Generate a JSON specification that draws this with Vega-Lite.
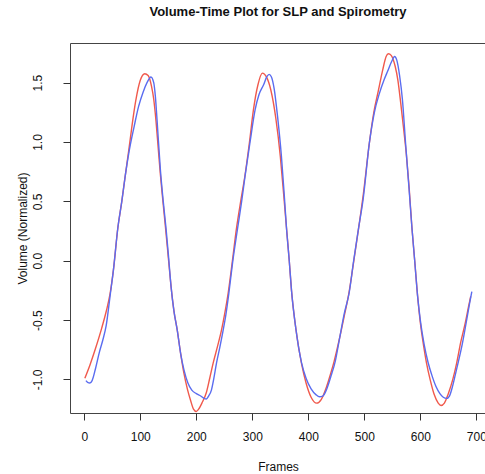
{
  "$schema": "https://vega.github.io/schema/vega-lite/v6.json",
  "width": 416,
  "height": 370,
  "autosize": {"type": "none"},
  "padding": {"left": 70, "top": 43, "right": 0, "bottom": 61},
  "background": "white",
  "title": {"text": "Volume-Time Plot for SLP and Spirometry", "font": "Liberation Sans", "fontSize": 13, "fontWeight": "bold", "color": "#111", "anchor": "middle", "offset": 24},
  "config": {
    "view": {"stroke": "#444", "strokeWidth": 1},
    "axis": {"labelFont": "Liberation Sans", "titleFont": "Liberation Sans", "labelFontSize": 12, "titleFontSize": 12, "titleFontWeight": "normal", "labelColor": "#111", "titleColor": "#111", "tickColor": "#333", "tickSize": 7, "grid": false, "domain": false}
  },
  "datasets": {
    "curves": [
      {"frame": 1, "volume": -0.99, "series": "SLP"},
      {"frame": 10, "volume": -0.88, "series": "SLP"},
      {"frame": 20, "volume": -0.74, "series": "SLP"},
      {"frame": 31, "volume": -0.57, "series": "SLP"},
      {"frame": 39, "volume": -0.43, "series": "SLP"},
      {"frame": 46, "volume": -0.28, "series": "SLP"},
      {"frame": 52, "volume": -0.08, "series": "SLP"},
      {"frame": 60, "volume": 0.28, "series": "SLP"},
      {"frame": 67, "volume": 0.5, "series": "SLP"},
      {"frame": 73, "volume": 0.71, "series": "SLP"},
      {"frame": 80, "volume": 0.95, "series": "SLP"},
      {"frame": 85, "volume": 1.13, "series": "SLP"},
      {"frame": 92, "volume": 1.35, "series": "SLP"},
      {"frame": 100, "volume": 1.52, "series": "SLP"},
      {"frame": 108, "volume": 1.575, "series": "SLP"},
      {"frame": 114, "volume": 1.56, "series": "SLP"},
      {"frame": 120, "volume": 1.47, "series": "SLP"},
      {"frame": 124, "volume": 1.36, "series": "SLP"},
      {"frame": 128, "volume": 1.18, "series": "SLP"},
      {"frame": 132, "volume": 0.95, "series": "SLP"},
      {"frame": 136, "volume": 0.72, "series": "SLP"},
      {"frame": 140, "volume": 0.52, "series": "SLP"},
      {"frame": 145, "volume": 0.28, "series": "SLP"},
      {"frame": 150, "volume": 0.03, "series": "SLP"},
      {"frame": 155, "volume": -0.22, "series": "SLP"},
      {"frame": 160, "volume": -0.42, "series": "SLP"},
      {"frame": 166, "volume": -0.585, "series": "SLP"},
      {"frame": 172, "volume": -0.78, "series": "SLP"},
      {"frame": 178, "volume": -0.95, "series": "SLP"},
      {"frame": 184, "volume": -1.08, "series": "SLP"},
      {"frame": 190, "volume": -1.18, "series": "SLP"},
      {"frame": 195, "volume": -1.25, "series": "SLP"},
      {"frame": 200, "volume": -1.27, "series": "SLP"},
      {"frame": 205, "volume": -1.245, "series": "SLP"},
      {"frame": 210, "volume": -1.2, "series": "SLP"},
      {"frame": 218, "volume": -1.11, "series": "SLP"},
      {"frame": 224, "volume": -0.99, "series": "SLP"},
      {"frame": 230, "volume": -0.865, "series": "SLP"},
      {"frame": 238, "volume": -0.72, "series": "SLP"},
      {"frame": 245, "volume": -0.585, "series": "SLP"},
      {"frame": 251, "volume": -0.44, "series": "SLP"},
      {"frame": 257, "volume": -0.27, "series": "SLP"},
      {"frame": 264, "volume": -0.02, "series": "SLP"},
      {"frame": 272, "volume": 0.28, "series": "SLP"},
      {"frame": 280, "volume": 0.52, "series": "SLP"},
      {"frame": 287, "volume": 0.72, "series": "SLP"},
      {"frame": 295, "volume": 1.0, "series": "SLP"},
      {"frame": 302, "volume": 1.27, "series": "SLP"},
      {"frame": 310, "volume": 1.48, "series": "SLP"},
      {"frame": 318, "volume": 1.58, "series": "SLP"},
      {"frame": 325, "volume": 1.55, "series": "SLP"},
      {"frame": 333, "volume": 1.44, "series": "SLP"},
      {"frame": 342, "volume": 1.2, "series": "SLP"},
      {"frame": 350, "volume": 0.88, "series": "SLP"},
      {"frame": 356, "volume": 0.56, "series": "SLP"},
      {"frame": 361, "volume": 0.28, "series": "SLP"},
      {"frame": 366, "volume": 0.0, "series": "SLP"},
      {"frame": 370, "volume": -0.25, "series": "SLP"},
      {"frame": 378, "volume": -0.58, "series": "SLP"},
      {"frame": 388, "volume": -0.87, "series": "SLP"},
      {"frame": 396, "volume": -1.03, "series": "SLP"},
      {"frame": 405, "volume": -1.15, "series": "SLP"},
      {"frame": 415, "volume": -1.2, "series": "SLP"},
      {"frame": 423, "volume": -1.17, "series": "SLP"},
      {"frame": 432, "volume": -1.07, "series": "SLP"},
      {"frame": 440, "volume": -0.95, "series": "SLP"},
      {"frame": 446, "volume": -0.85, "series": "SLP"},
      {"frame": 455, "volume": -0.67, "series": "SLP"},
      {"frame": 464, "volume": -0.47, "series": "SLP"},
      {"frame": 473, "volume": -0.26, "series": "SLP"},
      {"frame": 481, "volume": -0.01, "series": "SLP"},
      {"frame": 490, "volume": 0.28, "series": "SLP"},
      {"frame": 498, "volume": 0.55, "series": "SLP"},
      {"frame": 509, "volume": 0.99, "series": "SLP"},
      {"frame": 517, "volume": 1.25, "series": "SLP"},
      {"frame": 525, "volume": 1.43, "series": "SLP"},
      {"frame": 533, "volume": 1.61, "series": "SLP"},
      {"frame": 539, "volume": 1.72, "series": "SLP"},
      {"frame": 543, "volume": 1.744, "series": "SLP"},
      {"frame": 548, "volume": 1.73, "series": "SLP"},
      {"frame": 555, "volume": 1.64, "series": "SLP"},
      {"frame": 560, "volume": 1.52, "series": "SLP"},
      {"frame": 565, "volume": 1.33, "series": "SLP"},
      {"frame": 570, "volume": 1.12, "series": "SLP"},
      {"frame": 575, "volume": 0.9, "series": "SLP"},
      {"frame": 580, "volume": 0.62, "series": "SLP"},
      {"frame": 585, "volume": 0.28, "series": "SLP"},
      {"frame": 590, "volume": 0.0, "series": "SLP"},
      {"frame": 595, "volume": -0.29, "series": "SLP"},
      {"frame": 600, "volume": -0.52, "series": "SLP"},
      {"frame": 606, "volume": -0.72, "series": "SLP"},
      {"frame": 611, "volume": -0.86, "series": "SLP"},
      {"frame": 618, "volume": -1.01, "series": "SLP"},
      {"frame": 625, "volume": -1.13, "series": "SLP"},
      {"frame": 632, "volume": -1.2, "series": "SLP"},
      {"frame": 637, "volume": -1.22, "series": "SLP"},
      {"frame": 643, "volume": -1.2, "series": "SLP"},
      {"frame": 650, "volume": -1.12, "series": "SLP"},
      {"frame": 658, "volume": -1.0, "series": "SLP"},
      {"frame": 665, "volume": -0.86, "series": "SLP"},
      {"frame": 672, "volume": -0.69, "series": "SLP"},
      {"frame": 680, "volume": -0.53, "series": "SLP"},
      {"frame": 686, "volume": -0.39, "series": "SLP"},
      {"frame": 690, "volume": -0.3, "series": "SLP"},
      {"frame": 3, "volume": -1.01, "series": "Spirometry"},
      {"frame": 6, "volume": -1.025, "series": "Spirometry"},
      {"frame": 10, "volume": -1.03, "series": "Spirometry"},
      {"frame": 14, "volume": -1.01, "series": "Spirometry"},
      {"frame": 20, "volume": -0.91, "series": "Spirometry"},
      {"frame": 27, "volume": -0.77, "series": "Spirometry"},
      {"frame": 33, "volume": -0.67, "series": "Spirometry"},
      {"frame": 39, "volume": -0.55, "series": "Spirometry"},
      {"frame": 46, "volume": -0.3, "series": "Spirometry"},
      {"frame": 52, "volume": -0.08, "series": "Spirometry"},
      {"frame": 60, "volume": 0.28, "series": "Spirometry"},
      {"frame": 67, "volume": 0.5, "series": "Spirometry"},
      {"frame": 73, "volume": 0.71, "series": "Spirometry"},
      {"frame": 80, "volume": 0.92, "series": "Spirometry"},
      {"frame": 89, "volume": 1.13, "series": "Spirometry"},
      {"frame": 97, "volume": 1.3, "series": "Spirometry"},
      {"frame": 105, "volume": 1.42, "series": "Spirometry"},
      {"frame": 112, "volume": 1.5, "series": "Spirometry"},
      {"frame": 119, "volume": 1.548, "series": "Spirometry"},
      {"frame": 124, "volume": 1.5, "series": "Spirometry"},
      {"frame": 127, "volume": 1.38, "series": "Spirometry"},
      {"frame": 130, "volume": 1.18, "series": "Spirometry"},
      {"frame": 136, "volume": 0.76, "series": "Spirometry"},
      {"frame": 141, "volume": 0.5, "series": "Spirometry"},
      {"frame": 146, "volume": 0.27, "series": "Spirometry"},
      {"frame": 150, "volume": 0.06, "series": "Spirometry"},
      {"frame": 155, "volume": -0.22, "series": "Spirometry"},
      {"frame": 160, "volume": -0.42, "series": "Spirometry"},
      {"frame": 166, "volume": -0.585, "series": "Spirometry"},
      {"frame": 172, "volume": -0.78, "series": "Spirometry"},
      {"frame": 178, "volume": -0.92, "series": "Spirometry"},
      {"frame": 185, "volume": -1.03, "series": "Spirometry"},
      {"frame": 192, "volume": -1.09, "series": "Spirometry"},
      {"frame": 200, "volume": -1.12, "series": "Spirometry"},
      {"frame": 208, "volume": -1.14, "series": "Spirometry"},
      {"frame": 214, "volume": -1.16, "series": "Spirometry"},
      {"frame": 218, "volume": -1.165, "series": "Spirometry"},
      {"frame": 222, "volume": -1.14, "series": "Spirometry"},
      {"frame": 227, "volume": -1.09, "series": "Spirometry"},
      {"frame": 231, "volume": -1.0, "series": "Spirometry"},
      {"frame": 236, "volume": -0.865, "series": "Spirometry"},
      {"frame": 242, "volume": -0.73, "series": "Spirometry"},
      {"frame": 248, "volume": -0.585, "series": "Spirometry"},
      {"frame": 253, "volume": -0.45, "series": "Spirometry"},
      {"frame": 258, "volume": -0.28, "series": "Spirometry"},
      {"frame": 265, "volume": -0.01, "series": "Spirometry"},
      {"frame": 274, "volume": 0.28, "series": "Spirometry"},
      {"frame": 281, "volume": 0.5, "series": "Spirometry"},
      {"frame": 287, "volume": 0.71, "series": "Spirometry"},
      {"frame": 296, "volume": 1.0, "series": "Spirometry"},
      {"frame": 305, "volume": 1.27, "series": "Spirometry"},
      {"frame": 312, "volume": 1.4, "series": "Spirometry"},
      {"frame": 320, "volume": 1.48, "series": "Spirometry"},
      {"frame": 326, "volume": 1.55, "series": "Spirometry"},
      {"frame": 330, "volume": 1.57, "series": "Spirometry"},
      {"frame": 334, "volume": 1.55, "series": "Spirometry"},
      {"frame": 339, "volume": 1.45, "series": "Spirometry"},
      {"frame": 345, "volume": 1.22, "series": "Spirometry"},
      {"frame": 352, "volume": 0.88, "series": "Spirometry"},
      {"frame": 357, "volume": 0.56, "series": "Spirometry"},
      {"frame": 361, "volume": 0.28, "series": "Spirometry"},
      {"frame": 366, "volume": 0.0, "series": "Spirometry"},
      {"frame": 370, "volume": -0.25, "series": "Spirometry"},
      {"frame": 378, "volume": -0.58, "series": "Spirometry"},
      {"frame": 388, "volume": -0.86, "series": "Spirometry"},
      {"frame": 396, "volume": -0.99, "series": "Spirometry"},
      {"frame": 405, "volume": -1.08, "series": "Spirometry"},
      {"frame": 414, "volume": -1.13, "series": "Spirometry"},
      {"frame": 420, "volume": -1.146, "series": "Spirometry"},
      {"frame": 426, "volume": -1.14, "series": "Spirometry"},
      {"frame": 433, "volume": -1.08, "series": "Spirometry"},
      {"frame": 440, "volume": -0.98, "series": "Spirometry"},
      {"frame": 448, "volume": -0.85, "series": "Spirometry"},
      {"frame": 456, "volume": -0.65, "series": "Spirometry"},
      {"frame": 464, "volume": -0.45, "series": "Spirometry"},
      {"frame": 473, "volume": -0.27, "series": "Spirometry"},
      {"frame": 481, "volume": 0.0, "series": "Spirometry"},
      {"frame": 490, "volume": 0.28, "series": "Spirometry"},
      {"frame": 498, "volume": 0.52, "series": "Spirometry"},
      {"frame": 509, "volume": 0.99, "series": "Spirometry"},
      {"frame": 518, "volume": 1.25, "series": "Spirometry"},
      {"frame": 527, "volume": 1.41, "series": "Spirometry"},
      {"frame": 535, "volume": 1.52, "series": "Spirometry"},
      {"frame": 542, "volume": 1.6, "series": "Spirometry"},
      {"frame": 549, "volume": 1.68, "series": "Spirometry"},
      {"frame": 554, "volume": 1.72, "series": "Spirometry"},
      {"frame": 558, "volume": 1.69, "series": "Spirometry"},
      {"frame": 563, "volume": 1.56, "series": "Spirometry"},
      {"frame": 568, "volume": 1.36, "series": "Spirometry"},
      {"frame": 574, "volume": 0.97, "series": "Spirometry"},
      {"frame": 580, "volume": 0.6, "series": "Spirometry"},
      {"frame": 585, "volume": 0.28, "series": "Spirometry"},
      {"frame": 590, "volume": 0.0, "series": "Spirometry"},
      {"frame": 595, "volume": -0.29, "series": "Spirometry"},
      {"frame": 600, "volume": -0.5, "series": "Spirometry"},
      {"frame": 607, "volume": -0.71, "series": "Spirometry"},
      {"frame": 614, "volume": -0.86, "series": "Spirometry"},
      {"frame": 621, "volume": -0.97, "series": "Spirometry"},
      {"frame": 628, "volume": -1.06, "series": "Spirometry"},
      {"frame": 635, "volume": -1.12, "series": "Spirometry"},
      {"frame": 641, "volume": -1.15, "series": "Spirometry"},
      {"frame": 647, "volume": -1.16, "series": "Spirometry"},
      {"frame": 652, "volume": -1.14, "series": "Spirometry"},
      {"frame": 658, "volume": -1.05, "series": "Spirometry"},
      {"frame": 664, "volume": -0.93, "series": "Spirometry"},
      {"frame": 668, "volume": -0.85, "series": "Spirometry"},
      {"frame": 675, "volume": -0.7, "series": "Spirometry"},
      {"frame": 682, "volume": -0.52, "series": "Spirometry"},
      {"frame": 688, "volume": -0.36, "series": "Spirometry"},
      {"frame": 692, "volume": -0.26, "series": "Spirometry"}
    ]
  },
  "data": {"name": "curves"},
  "mark": {"type": "line", "interpolate": "monotone", "strokeWidth": 1.4, "clip": true},
  "encoding": {
    "x": {"field": "frame", "type": "quantitative", "scale": {"domain": [-25.5, 717.3], "nice": false, "zero": false},
      "axis": {"values": [0, 100, 200, 300, 400, 500, 600, 700], "title": "Frames", "labelPadding": 11, "titlePadding": 19}},
    "y": {"field": "volume", "type": "quantitative", "scale": {"domain": [-1.283, 1.834], "nice": false, "zero": false},
      "axis": {"values": [-1, -0.5, 0, 0.5, 1, 1.5], "format": ".1f", "labelExpr": "replace(datum.label, '\u2212', '-')", "title": "Volume (Normalized)", "labelAngle": -90, "labelAlign": "center", "labelBaseline": "bottom", "labelPadding": 19, "titlePadding": 2}},
    "color": {"field": "series", "type": "nominal", "scale": {"domain": ["SLP", "Spirometry"], "range": ["#f0594c", "#5a6cf0"]}, "legend": null},
    "detail": {"field": "series"}
  }
}
